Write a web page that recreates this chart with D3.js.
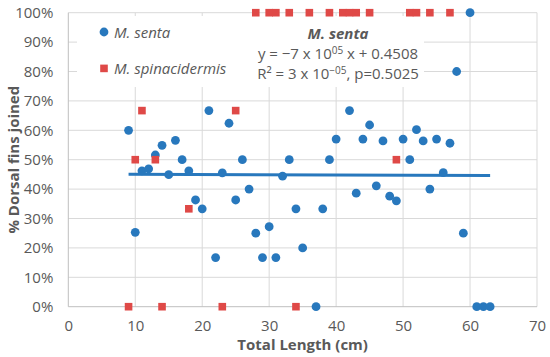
<!DOCTYPE html>
<html>
<head>
<meta charset="utf-8">
<script src="https://cdnjs.cloudflare.com/ajax/libs/d3/7.8.5/d3.min.js"></script>
<style>
    body { margin: 0; background: #fff; }
    svg { display: block; font-family: "Open Sans", "Liberation Sans", sans-serif; }
</style>
</head>
<body>
<svg id="chart" width="550" height="357"></svg>
<script>
// M. senta (blue circles)
var sentaLength = [9, 10, 11, 12, 13, 14, 15, 16, 17, 18, 19, 20, 21, 22, 23, 24, 25, 26, 27, 28,
    29, 30, 31, 32, 33, 34, 35, 37, 38, 39, 40, 42, 43, 44, 45, 46, 47, 48, 49, 50,
    51, 52, 53, 54, 55, 56, 57, 58, 59, 60, 61, 62, 63];
var sentaJoined = [0.60, 0.253, 0.462, 0.469, 0.516, 0.549, 0.449, 0.566, 0.50, 0.462, 0.363, 0.333, 0.667, 0.167, 0.455, 0.624, 0.363, 0.50, 0.40, 0.25,
    0.167, 0.272, 0.167, 0.444, 0.50, 0.333, 0.20, 0, 0.333, 0.50, 0.57, 0.667, 0.386, 0.57, 0.618, 0.411, 0.564, 0.376, 0.36, 0.57,
    0.50, 0.602, 0.564, 0.40, 0.57, 0.456, 0.556, 0.80, 0.25, 1.0, 0, 0, 0];

// M. spinacidermis (red squares)
var spinLength = [9, 10, 11, 13, 14, 18, 23, 25, 34, 49,
    28, 30, 31, 33, 36, 39, 41, 42, 43, 45, 51, 52, 54, 57];
var spinJoined = [0, 0.50, 0.667, 0.50, 0, 0.333, 0, 0.667, 0, 0.50,
    1, 1, 1, 1, 1, 1, 1, 1, 1, 1, 1, 1, 1, 1];

// linear fit for M. senta
var trendSlope = -0.00007;
var trendIntercept = 0.4508;
var trendRange = [9, 63];

var xTicks = [0, 10, 20, 30, 40, 50, 60, 70];
var yTicks = [0, 0.1, 0.2, 0.3, 0.4, 0.5, 0.6, 0.7, 0.8, 0.9, 1.0];

var blue = "#2878bd",
    red = "#df4947",
    textGray = "#595959",
    gridGray = "#d9d9d9";

var svg = d3.select("#chart");

var xScale = d3.scaleLinear().domain([0, 70]).range([68.3, 537]);
var yScale = d3.scaleLinear().domain([0, 1]).range([306.7, 12.7]);

// gridlines
svg.append("g").selectAll("line.v")
    .data(xTicks.slice(1))
    .enter().append("line")
    .attr("x1", function (d) { return xScale(d); })
    .attr("x2", function (d) { return xScale(d); })
    .attr("y1", yScale(0))
    .attr("y2", yScale(1))
    .attr("stroke", gridGray)
    .attr("stroke-width", 1);

svg.append("g").selectAll("line.h")
    .data(yTicks.slice(1))
    .enter().append("line")
    .attr("x1", xScale(0))
    .attr("x2", xScale(70))
    .attr("y1", function (d) { return yScale(d); })
    .attr("y2", function (d) { return yScale(d); })
    .attr("stroke", gridGray)
    .attr("stroke-width", 1);

// axis lines
svg.append("line")
    .attr("x1", xScale(0)).attr("x2", xScale(70))
    .attr("y1", yScale(0)).attr("y2", yScale(0))
    .attr("stroke", "#bfbfbf");
svg.append("line")
    .attr("x1", xScale(0)).attr("x2", xScale(0))
    .attr("y1", yScale(0)).attr("y2", yScale(1))
    .attr("stroke", "#bfbfbf");

// tick labels
var xAxis = d3.axisBottom(xScale).tickValues(xTicks).tickSize(0).tickPadding(14);
var yAxis = d3.axisLeft(yScale).tickValues(yTicks).tickSize(0).tickPadding(15).tickFormat(d3.format(".0%"));

var gx = svg.append("g").attr("transform", "translate(0," + yScale(0) + ")").call(xAxis);
var gy = svg.append("g").attr("transform", "translate(" + xScale(0) + ",0)").call(yAxis);
[gx, gy].forEach(function (g) {
    g.select(".domain").remove();
    g.selectAll("text")
        .attr("fill", textGray)
        .style("font-size", "15px")
        .style("font-family", "'Open Sans', sans-serif");
});

// white box behind legend and equation (hides the gridlines there)
svg.append("rect")
    .attr("x", 77).attr("y", 16)
    .attr("width", 424 - 77).attr("height", 87 - 16)
    .attr("fill", "#fff");

// legend
svg.append("circle").attr("cx", 104).attr("cy", 32).attr("r", 4.4).attr("fill", blue);
svg.append("text").attr("x", 114).attr("y", 37.5)
    .attr("fill", textGray).style("font-size", "15px").style("font-style", "italic")
    .text("M. senta");
svg.append("rect").attr("x", 100.2).attr("y", 64.6).attr("width", 7.6).attr("height", 7.6).attr("fill", red);
svg.append("text").attr("x", 114).attr("y", 73.5)
    .attr("fill", textGray).style("font-size", "15px").style("font-style", "italic")
    .text("M. spinacidermis");

// equation label
var eq = svg.append("g").attr("fill", textGray).attr("text-anchor", "middle").style("font-size", "15px");
eq.append("text").attr("x", 338).attr("y", 38.5)
    .style("font-weight", "bold").style("font-style", "italic")
    .text("M. senta");
var eq1 = eq.append("text").attr("x", 338).attr("y", 58.5);
eq1.append("tspan").text("y = \u22127 x 10");
eq1.append("tspan").attr("dy", -5).style("font-size", "10px").text("05");
eq1.append("tspan").attr("dy", 5).text(" x + 0.4508");
var eq2 = eq.append("text").attr("x", 338).attr("y", 78.5);
eq2.append("tspan").text("R\u00b2 = 3 x 10");
eq2.append("tspan").attr("dy", -5).style("font-size", "10px").text("\u221205");
eq2.append("tspan").attr("dy", 5).text(", p=0.5025");

// axis titles
svg.append("text")
    .attr("x", (xScale(0) + xScale(70)) / 2)
    .attr("y", 350)
    .attr("text-anchor", "middle")
    .attr("fill", textGray)
    .style("font-size", "15px").style("font-weight", "bold")
    .text("Total Length (cm)");

svg.append("text")
    .attr("transform", "translate(19," + ((yScale(0) + yScale(1)) / 2) + ") rotate(-90)")
    .attr("text-anchor", "middle")
    .attr("fill", textGray)
    .style("font-size", "15px").style("font-weight", "bold")
    .text("% Dorsal fins joined");

// trend line
var line = d3.line()
    .x(function (d) { return xScale(d); })
    .y(function (d) { return yScale(trendIntercept + trendSlope * d); });

svg.append("path")
    .datum(trendRange)
    .attr("d", line)
    .attr("fill", "none")
    .attr("stroke", blue)
    .attr("stroke-width", 3);

// points
svg.append("g").selectAll("circle")
    .data(sentaLength)
    .enter().append("circle")
    .attr("cx", function (d) { return xScale(d); })
    .attr("cy", function (d, i) { return yScale(sentaJoined[i]); })
    .attr("r", 4.4)
    .attr("fill", blue);

svg.append("g").selectAll("rect")
    .data(spinLength)
    .enter().append("rect")
    .attr("x", function (d) { return xScale(d) - 3.8; })
    .attr("y", function (d, i) { return yScale(spinJoined[i]) - 3.8; })
    .attr("width", 7.6)
    .attr("height", 7.6)
    .attr("fill", red);
</script>
</body>
</html>
